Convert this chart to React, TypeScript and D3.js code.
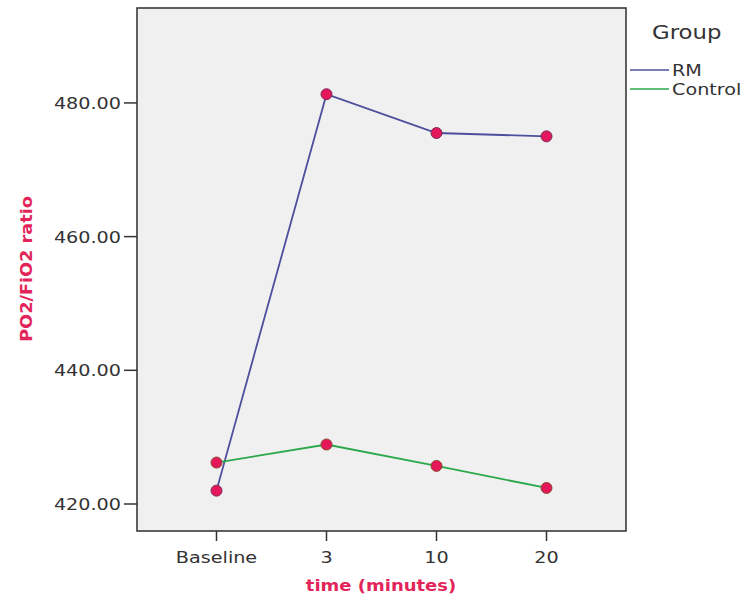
import React from 'react';
import * as d3 from 'd3';

// time points and group means
const categories = ['Baseline', '3', '10', '20'];
const rmValues = [422.0, 481.3, 475.5, 475.0];
const controlValues = [426.2, 428.9, 425.7, 422.4];
const yTicks = [420, 440, 460, 480];

const groups = [
  { name: 'RM', values: rmValues, color: '#4d4f9c' },
  { name: 'Control', values: controlValues, color: '#2aa84a' },
];

const W = 747;
const H = 600;
const plot = { left: 137, right: 626, top: 8, bottom: 531 };
const red = '#e3245a';
const font = 'DejaVu Sans, sans-serif';
const sx = 1.2; // the source picture is stretched horizontally

export default function App() {
  const x = d3.scalePoint<string>()
    .domain(categories)
    .range([plot.left, plot.right])
    .padding(0.7227);
  const y = d3.scaleLinear().domain([415.96, 494.2]).range([plot.bottom, plot.top]);
  const fmt = d3.format('.2f');

  const line = d3.line<number>()
    .x((_, i) => x(categories[i]) as number)
    .y(v => y(v));

  return (
    <svg width={W} height={H} style={{ position: 'absolute', left: 0, top: 0, background: '#fff' }}
      fontFamily={font}>
      {/* plot area */}
      <rect x={plot.left} y={plot.top} width={plot.right - plot.left} height={plot.bottom - plot.top}
        fill="#f0f0f0" stroke="#3a3a3a" strokeWidth={1.6} />

      {/* y axis */}
      {yTicks.map(t => (
        <g key={t}>
          <line x1={plot.left - 13} x2={plot.left} y1={y(t)} y2={y(t)} stroke="#333" strokeWidth={1.5} />
          <text transform={`translate(121,${y(t) + 6}) scale(${sx},1)`} textAnchor="end"
            fontSize={16} fill="#333">{fmt(t)}</text>
        </g>
      ))}
      <text transform={`translate(32,269) rotate(-90) scale(1.18,1)`} textAnchor="middle" fontSize={15}
        fontWeight="bold" fill={red}>PO2/FiO2 ratio</text>

      {/* x axis */}
      {categories.map(c => (
        <g key={c}>
          <line x1={x(c)} x2={x(c)} y1={plot.bottom} y2={plot.bottom + 10} stroke="#333" strokeWidth={1.5} />
          <text transform={`translate(${x(c)},563) scale(${sx},1)`} textAnchor="middle"
            fontSize={16} fill="#333">{c}</text>
        </g>
      ))}
      <text transform={`translate(381,591) scale(${sx},1)`} textAnchor="middle" fontSize={15}
        fontWeight="bold" fill={red}>time (minutes)</text>

      {/* series */}
      {groups.map(g => (
        <path key={g.name} d={line(g.values) || ''} fill="none" stroke={g.color} strokeWidth={1.8} />
      ))}
      {groups.map(g => g.values.map((v, i) => (
        <circle key={g.name + i} cx={x(categories[i])} cy={y(v)} r={5.5}
          fill="#e3175a" stroke={g.name === 'RM' ? '#7a2a5a' : '#8a4a2a'} strokeWidth={1} />
      )))}

      {/* legend */}
      <text transform={`translate(652,39) scale(${sx},1)`} fontSize={19} fill="#333">Group</text>
      {groups.map((g, i) => (
        <g key={g.name} transform={`translate(0,${70 + i * 19})`}>
          <line x1={630} x2={669} y1={0} y2={0} stroke={g.color} strokeWidth={1.6} />
          <text transform={`translate(672,6) scale(${sx},1)`} fontSize={16} fill="#333">{g.name}</text>
        </g>
      ))}
    </svg>
  );
}
